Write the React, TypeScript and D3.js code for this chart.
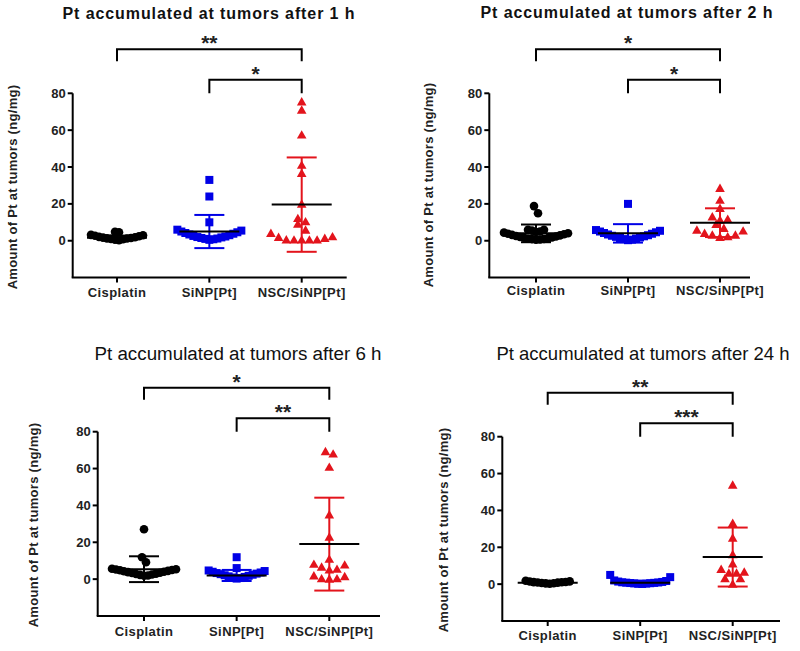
import * as d3 from "d3";

// groups and axis
const groups = ["Cisplatin", "SiNP[Pt]", "NSC/SiNP[Pt]"];
const yTicks = [0, 20, 40, 60, 80];
const yDomain = [-20, 80];
const titles = [
  "Pt accumulated at tumors after 1 h",
  "Pt accumulated at tumors after 2 h",
  "Pt accumulated at tumors after 6 h",
  "Pt accumulated at tumors after 24 h",
];
const yLabel = "Amount of Pt at tumors (ng/mg)";

// 1 h
const cis1h = [0.3, 0.6, 0.8, 1.0, 1.2, 1.3, 1.5, 1.7, 1.9, 2.1, 2.4, 2.7, 3.0, 3.2, 4.6, 4.9];
const sin1h = [0.5, 0.8, 1.0, 1.2, 1.5, 1.8, 2.0, 2.3, 2.6, 3.0, 3.4, 3.8, 4.2, 4.6, 5.0, 5.5, 6.0, 10, 24, 33];
const nsc1h = [75.4, 70.9, 57.4, 41, 36.6, 19.9, 12.1, 9, 10.3, 5.8, 2.2, 1.3, 0.4, 0.4, 0.4, 0.4, 0.5, 1.8, 4];
const mean1h = [1.6, 5, 19.6];
const sd1h = [1.2, 9, 25.6];
const stars1h = ["**", "*"];

// 2 h
const cis2h = [0.5, 0.7, 0.9, 1.0, 1.2, 1.4, 1.6, 1.8, 2.0, 2.3, 2.6, 2.9, 3.2, 3.5, 3.8, 4.1, 4.4, 4.7, 5.0, 5.5, 6.0, 6.0, 14.9, 18.8];
const sin2h = [0.3, 0.6, 0.9, 1.2, 1.5, 1.8, 2.1, 2.4, 2.7, 3.0, 3.4, 3.8, 4.2, 4.6, 5.0, 5.4, 5.8, 20];
const nsc2h = [28.4, 22, 17.6, 13, 11.2, 8.9, 11.6, 5.8, 6.7, 4, 3.1, 1.8, 2.2, 3.1, 5.3];
const mean2h = [4, 4, 9.8];
const sd2h = [4.8, 5, 7.8];
const stars2h = ["*", "*"];

// 6 h
const cis6h = [1.8, 2.0, 2.3, 2.5, 2.8, 3.0, 3.3, 3.5, 3.8, 4.0, 4.3, 4.5, 4.8, 5.0, 5.2, 5.4, 5.6, 9.2, 11.9, 27.1];
const sin6h = [0.3, 0.6, 0.9, 1.2, 1.5, 1.8, 2.1, 2.4, 2.7, 3.0, 3.3, 3.6, 4.0, 4.4, 4.7, 6, 11.9];
const nsc6h = [69.2, 67.9, 60.7, 34.9, 22.8, 10.8, 5.4, 7.7, 6.5, 8.1, 5, 1.8, 0.2, 0, 0.2, 1.4];
const mean6h = [5.4, 2, 19];
const sd6h = [7, 3, 25.2];
const stars6h = ["*", "**"];

// 24 h
const cis24h = [0.2, 0.4, 0.5, 0.6, 0.8, 0.9, 1.0, 1.1, 1.2, 1.4, 1.5, 1.8];
const sin24h = [0.1, 0.2, 0.3, 0.4, 0.5, 0.6, 0.7, 0.8, 0.9, 1.0, 1.2, 1.4, 1.7, 2.0, 3.8, 5.0];
const nsc24h = [53.7, 33, 25, 16, 11, 6, 3, 8, 3, 6, 6.5, 0];
const mean24h = [0.8, 0.8, 14.7];
const sd24h = [0.5, 1, 16];
const stars24h = ["**", "***"];

const colors = ["#000000", "#0000e6", "#e3141c"];
const rowHeight = [7.5, 10.5, 8];
const rowGap = [4, 4, 7.7];
const font = "Arial, 'Liberation Sans', sans-serif";

const panels = [
  { data: [cis1h, sin1h, nsc1h], mean: mean1h, sd: sd1h, stars: stars1h, left: 72.7, right: 346.7, c0: 117, c2: 301.7, top: 93.3, titleX: 209, titleY: 18.5, titleSize: 16, titleWeight: "bold", labelX: 17, labelY: 187, xLabelY: 297 },
  { data: [cis2h, sin2h, nsc2h], mean: mean2h, sd: sd2h, stars: stars2h, left: 489.3, right: 750, c0: 536, c2: 720, top: 93.3, titleX: 627, titleY: 18, titleSize: 16, titleWeight: "bold", labelX: 433, labelY: 185, xLabelY: 295 },
  { data: [cis6h, sin6h, nsc6h], mean: mean6h, sd: sd6h, stars: stars6h, left: 97.7, right: 380, c0: 144, c2: 329.3, top: 431.7, titleX: 238, titleY: 360, titleSize: 18.8, titleWeight: "normal", labelX: 38, labelY: 525, xLabelY: 636 },
  { data: [cis24h, sin24h, nsc24h], mean: mean24h, sd: sd24h, stars: stars24h, left: 502.3, right: 780, c0: 547.7, c2: 732.7, top: 436.7, titleX: 643, titleY: 360, titleSize: 18.5, titleWeight: "normal", labelX: 448, labelY: 530, xLabelY: 640 },
];

const comparisons = [[0, 2], [1, 2]];

// prism-like scatter: close values share a row, spread side by side, lowest in the middle
function scatterRows(values: number[], y: d3.ScaleLinear<number, number>, cx: number, binH: number, gap: number) {
  const sorted = [...values].sort((a, b) => a - b);
  const rows: number[][] = [];
  sorted.forEach((v) => {
    const cur = rows[rows.length - 1];
    if (cur && y(cur[0]) - y(v) <= binH) cur.push(v);
    else rows.push([v]);
  });
  const out: { x: number; y: number }[] = [];
  rows.forEach((row) => {
    const n = row.length;
    const offs = d3.range(n).map((j) => (j - (n - 1) / 2) * gap);
    offs.sort((a, b) => Math.abs(a) - Math.abs(b) || b - a);
    row.forEach((v, j) => out.push({ x: cx + offs[j], y: y(v) }));
  });
  return out;
}

function Marker({ g, x, y }: { g: number; x: number; y: number }) {
  const c = colors[g];
  if (g === 0) return <circle cx={x} cy={y} r={4.3} fill={c} />;
  if (g === 1) return <rect x={x - 4} y={y - 4} width={8} height={8} fill={c} />;
  const s = 4.8;
  return <path d={`M${x},${y - s}L${x + s},${y + s * 0.75}L${x - s},${y + s * 0.75}Z`} fill={c} />;
}

function Panel({ p, title }: { p: (typeof panels)[number]; title: string }) {
  const y = d3.scaleLinear().domain(yDomain).range([p.top + 184.3, p.top]);
  const x = d3.scalePoint<string>().domain(groups).range([p.c0, p.c2]);
  const yb = y(yDomain[0]);
  return (
    <g fontFamily={font}>
      <text x={p.titleX} y={p.titleY} textAnchor="middle" fontSize={p.titleSize} fontWeight={p.titleWeight} letterSpacing={p.titleWeight === "bold" ? 0.9 : 0} fill="#111">
        {title}
      </text>
      {/* y axis */}
      <line x1={p.left} x2={p.left} y1={y(80)} y2={yb} stroke="#000" strokeWidth={2} />
      {yTicks.map((t) => (
        <g key={t}>
          <line x1={p.left - 5} x2={p.left} y1={y(t)} y2={y(t)} stroke="#000" strokeWidth={2} />
          <text x={p.left - 7} y={y(t) + 4.5} textAnchor="end" fontSize={13} fontWeight="bold" fill="#222">
            {t}
          </text>
        </g>
      ))}
      {/* x axis */}
      <line x1={p.left - 1} x2={p.right} y1={yb} y2={yb} stroke="#000" strokeWidth={2} />
      {groups.map((gname) => (
        <g key={gname}>
          <line x1={x(gname)} x2={x(gname)} y1={yb} y2={yb + 5} stroke="#000" strokeWidth={2} />
          <text x={x(gname)} y={p.xLabelY} textAnchor="middle" fontSize={13} fontWeight="bold" letterSpacing={0.4} fill="#222">
            {gname}
          </text>
        </g>
      ))}
      <text transform={`translate(${p.labelX},${p.labelY}) rotate(-90)`} textAnchor="middle" fontSize={13} fontWeight="bold" letterSpacing={0.3} fill="#222">
        {yLabel}
      </text>
      {/* points */}
      {p.data.map((vals, gi) => {
        const pts = scatterRows(vals, y, x(groups[gi]) as number, rowHeight[gi], rowGap[gi]);
        return (
          <g key={gi}>
            {pts.map((pt, i) => (
              <Marker key={i} g={gi} x={pt.x} y={pt.y} />
            ))}
          </g>
        );
      })}
      {/* mean and SD */}
      {groups.map((gname, gi) => {
        const cx = x(gname) as number;
        const m = p.mean[gi];
        const s = p.sd[gi];
        const c = colors[gi];
        return (
          <g key={gname} strokeWidth={2}>
            <line x1={cx} x2={cx} y1={y(m + s)} y2={y(m - s)} stroke={c} />
            <line x1={cx - 15} x2={cx + 15} y1={y(m + s)} y2={y(m + s)} stroke={c} />
            <line x1={cx - 15} x2={cx + 15} y1={y(m - s)} y2={y(m - s)} stroke={c} />
            <line x1={cx - 30} x2={cx + 30} y1={y(m)} y2={y(m)} stroke="#000" />
          </g>
        );
      })}
      {/* significance brackets */}
      {comparisons.map(([a, b], ci) => {
        const xa = x(groups[a]) as number;
        const xb = x(groups[b]) as number;
        const ly = ci === 0 ? p.top - 44 : p.top - 13.5;
        const drop = ci === 0 ? 12 : 13.5;
        return (
          <g key={ci}>
            <path d={`M${xa},${ly + drop}V${ly}H${xb}V${ly + drop}`} fill="none" stroke="#000" strokeWidth={2} />
            <text x={(xa + xb) / 2} y={ly + 1} textAnchor="middle" fontSize={21} fontWeight="bold" fill="#222">
              {p.stars[ci]}
            </text>
          </g>
        );
      })}
    </g>
  );
}

export default function App() {
  return (
    <svg width={800} height={651} style={{ position: "absolute", left: 0, top: 0, background: "#fff" }}>
      <rect width={800} height={651} fill="#fff" />
      {panels.map((p, i) => (
        <Panel key={i} p={p} title={titles[i]} />
      ))}
    </svg>
  );
}
